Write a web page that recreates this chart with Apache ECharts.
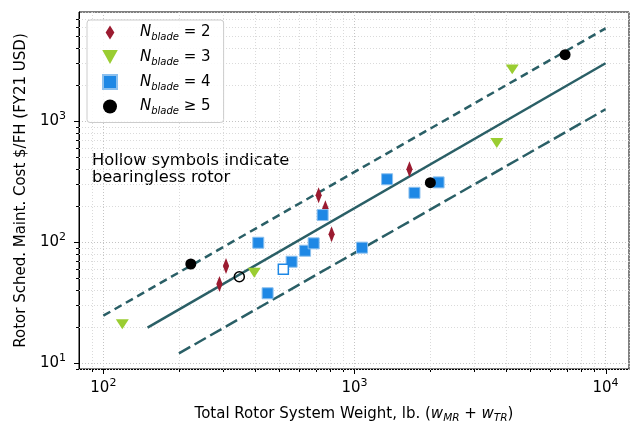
<!DOCTYPE html>
<html>
<head>
<meta charset="utf-8">
<script src="https://cdn.jsdelivr.net/npm/echarts@6/dist/echarts.min.js"></script>
<style>html,body{margin:0;padding:0;background:#fff;}#c{width:630px;height:424px;}</style>
</head>
<body>
<div id="c"></div>
<script>
// ---- data ----
const blade2 = [[290,45.0],[308,63.4],[720,244],[766,190],[811,116],[1656,399]];
const blade3 = [[119,20.9],[399,55.7],[3690,658],[4250,2673]];
const blade4 = [[414,98.6],[451,37.7],[562,68.7],[636,84.7],[688,97.5],[747,167],[1072,89.8],[1349,330],[1734,255],[2163,311]];
const blade4Hollow = [[521,59.4]];
const blade5 = [[223,65.8],[2006,309],[6900,3532]];
const blade5Hollow = [[348,51.6]];
const upperLine = [[100,24.6],[10000,5830]];
const midLine = [[150,19.6],[10000,3000]];
const lowerLine = [[200,12.0],[10000,1250]];
const xMajorTicks = [100,1000,10000];
const yMajorTicks = [10,100,1000];
const X_MIN = 80.0, X_MAX = 12400, Y_MIN = 8.92, Y_MAX = 7960;

const xMinor = [], yMinor = [];
for (const d of [10,100,1000,10000]) for (let k=2;k<=9;k++){ const v=k*d; if (v>X_MIN && v<X_MAX) xMinor.push(v); }
for (const d of [1,10,100,1000]) for (let k=2;k<=9;k++){ const v=k*d; if (v>Y_MIN && v<Y_MAX) yMinor.push(v); }

const C_RED='#9B1B30', C_GREEN='#9ACD32', C_BLUE='#1E88E5', C_LINE='#2A5F66';
const FONT='DejaVu Sans';
function powLabel(v){
  const l = Math.log10(v); const r = Math.round(l);
  if (Math.abs(l-r) < 1e-6) return '{b|10}{p|' + r + '}';
  return '';
}
const tickRich = {
  b:{fontFamily:FONT,fontSize:15,lineHeight:20,color:'#000'},
  p:{fontFamily:FONT,fontSize:11,lineHeight:11,verticalAlign:'top',color:'#000'}
};
const legendNames = {'b2':' = 2','b3':' = 3','b4':' = 4','b5':' ≥ 5'};
const richN = {
  sp:{width:10},
  i:{fontFamily:FONT,fontStyle:'italic',fontSize:15,lineHeight:20,color:'#000'},
  s:{fontFamily:FONT,fontStyle:'italic',fontSize:10,lineHeight:10,verticalAlign:'bottom',color:'#000'},
  t:{fontFamily:FONT,fontSize:15,lineHeight:20,color:'#000'}
};

function tickSeries(data, isX, len, withGrid, gridColor){
  return {
    type:'custom', silent:true, clip:false, z:1,
    data: data.map(v => isX ? [v, Y_MIN] : [X_MIN, v]),
    renderItem: function(params, api){
      const cs = params.coordSys;
      const p = api.coord([api.value(0), api.value(1)]);
      const ch = [];
      if (isX){
        const x = Math.round(p[0])+0.5; const yb = cs.y+cs.height;
        if (withGrid) ch.push({type:'line',shape:{x1:x,y1:cs.y,x2:x,y2:yb},style:{stroke:gridColor,lineWidth:1,lineDash:[1,2]}});
        ch.push({type:'line',shape:{x1:x,y1:yb,x2:x,y2:yb+len},style:{stroke:'#000',lineWidth:1}});
      } else {
        const y = Math.round(p[1])+0.5; const xl = cs.x;
        if (withGrid) ch.push({type:'line',shape:{x1:xl,y1:y,x2:xl+cs.width,y2:y},style:{stroke:gridColor,lineWidth:1,lineDash:[1,2]}});
        ch.push({type:'line',shape:{x1:xl,y1:y,x2:xl-len,y2:y},style:{stroke:'#000',lineWidth:1}});
      }
      return {type:'group',children:ch};
    }
  };
}

const chart = echarts.init(document.getElementById('c'), null, {renderer:'canvas'});
chart.setOption({
  animation:false,
  backgroundColor:'#fff',
  grid:{left:79,right:1,top:12,bottom:55,outerBoundsMode:'none',containLabel:false,show:true,borderColor:'#000',borderWidth:1,backgroundColor:'transparent'},
  xAxis:{
    type:'log', min:X_MIN, max:X_MAX, logBase:10,
    axisLine:{lineStyle:{color:'#000',width:1}},
    axisTick:{show:false},
    splitLine:{show:true,lineStyle:{color:'#c4c4c4',type:[1,2],width:1}},
    axisLabel:{formatter:powLabel,rich:tickRich,margin:9},
    name:'{n|Total Rotor System Weight, lb. (}{i|w}{s|MR}{n| + }{i|w}{s|TR}{n|)}',
    nameLocation:'middle', nameGap:35,
    nameTextStyle:{rich:{
      n:{fontFamily:FONT,fontSize:15,lineHeight:20,color:'#000'},
      i:{fontFamily:FONT,fontStyle:'italic',fontSize:15,lineHeight:20,color:'#000'},
      s:{fontFamily:FONT,fontStyle:'italic',fontSize:10.5,lineHeight:10,verticalAlign:'bottom',color:'#000'}
    }}
  },
  yAxis:{
    type:'log', min:Y_MIN, max:Y_MAX, logBase:10,
    axisLine:{lineStyle:{color:'#000',width:1}},
    axisTick:{show:false},
    splitLine:{show:true,lineStyle:{color:'#c4c4c4',type:[1,2],width:1}},
    axisLabel:{formatter:powLabel,rich:tickRich,margin:13},
    name:'Rotor Sched. Maint. Cost $/FH (FY21 USD)',
    nameLocation:'middle', nameGap:47, nameRotate:90,
    nameTextStyle:{fontFamily:FONT,fontSize:15,color:'#000'}
  },
  legend:{
    orient:'vertical', left:87, top:20,
    padding:[5,13,6,15], itemGap:7, itemWidth:30, itemHeight:14,
    backgroundColor:'rgba(255,255,255,0.85)', borderColor:'#cccccc', borderWidth:1, borderRadius:3,
    data:['b2','b3','b4','b5'],
    formatter: n => '{sp|}{i|N}{s|blade}{t|' + legendNames[n] + '}',
    textStyle:{rich:richN},
    selectedMode:false
  },
  graphic:[{
    type:'text', left:92, top:152, silent:true,
    style:{text:'Hollow symbols indicate\nbearingless rotor', font:'16.3px "DejaVu Sans"', lineHeight:17.5, fill:'#000'}
  }],
  series:[
    tickSeries(xMinor, true, 3, true, '#dadada'),
    tickSeries(yMinor, false, 3, true, '#dadada'),
    tickSeries(xMajorTicks, true, 5, false),
    tickSeries(yMajorTicks, false, 5, false),
    {type:'line', data:upperLine, showSymbol:false, silent:true, z:2, lineStyle:{color:C_LINE,width:2.5,type:[8,5]}},
    {type:'line', data:midLine, showSymbol:false, silent:true, z:2, lineStyle:{color:C_LINE,width:2.5}},
    {type:'line', data:lowerLine, showSymbol:false, silent:true, z:2, lineStyle:{color:C_LINE,width:2.5,type:[13,5]}},
    {name:'b2', type:'scatter', data:blade2, symbol:'path://M5,0 L10,8 L5,16 L0,8 Z', symbolSize:[10,16], symbolKeepAspect:true, z:3, itemStyle:{color:C_RED,opacity:1}},
    {name:'b3', type:'scatter', data:blade3, symbol:'path://M0,0 L2,0 L1,1.8 Z', symbolSize:[13,11], symbolKeepAspect:true, z:3, itemStyle:{color:C_GREEN,opacity:1}},
    {name:'b4', type:'scatter', data:blade4, symbol:'path://M0,0 L10,0 L10,10 L0,10 Z', symbolSize:11, symbolKeepAspect:true, z:3, itemStyle:{color:C_BLUE,borderColor:'#8cc0ee',borderWidth:1,opacity:1}},
    {name:'b4h', type:'scatter', data:blade4Hollow, symbol:'rect', symbolSize:10, z:3, itemStyle:{color:'#fff',borderColor:C_BLUE,borderWidth:1.5,opacity:1}},
    {name:'b5', type:'scatter', data:blade5, symbol:'circle', symbolSize:11, symbolKeepAspect:true, z:3, itemStyle:{color:'#000',opacity:1}},
    {name:'b5h', type:'scatter', data:blade5Hollow, symbol:'circle', symbolSize:10, z:3, itemStyle:{color:'rgba(255,255,255,0)',borderColor:'#000',borderWidth:1.5,opacity:1}}
  ]
});
</script>
</body>
</html>
